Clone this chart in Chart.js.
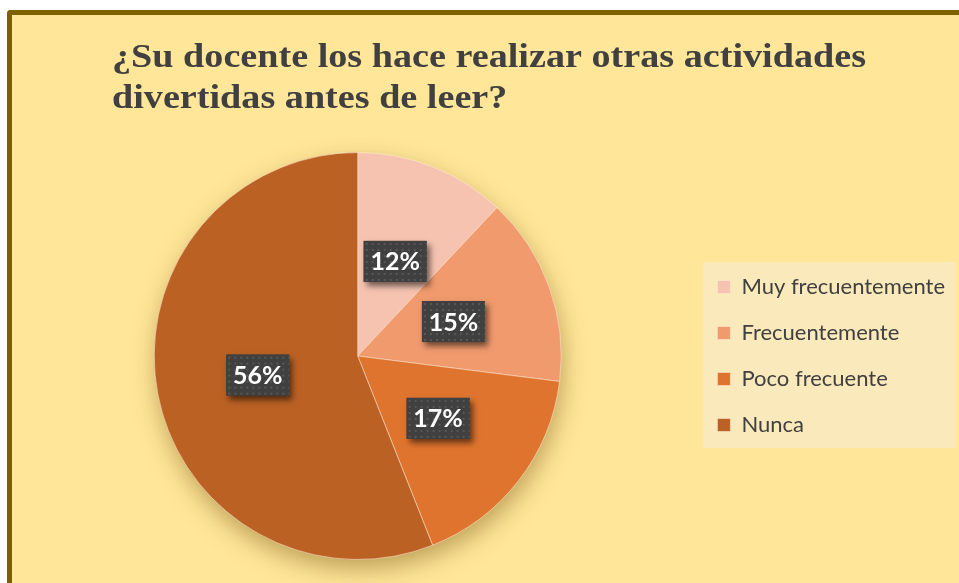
<!DOCTYPE html>
<html><head><meta charset="utf-8">
<script src="https://cdn.jsdelivr.net/npm/chart.js@4/dist/chart.umd.min.js"></script>
<style>
html,body{margin:0;padding:0;background:#fff;overflow:hidden;width:959px;height:583px}
#frame{position:absolute;left:7px;top:10px;width:980px;height:600px;background:#FFE699;border-left:5px solid #7F6000;border-top:5px solid #7F6000;border-top-left-radius:4px}
#c{position:absolute;left:0;top:0}
</style></head><body>
<div id="frame"></div>
<canvas id="c" width="959" height="583"></canvas>
<script>
const titleLines = ["¿Su docente los hace realizar otras actividades", "divertidas antes de leer?"];
const categories = ["Muy frecuentemente", "Frecuentemente", "Poco frecuente", "Nunca"];
const percentages = [12, 15, 17, 56];
const sliceColors = ["#F5C3B0", "#F09A6E", "#DF742E", "#BB6124"];

const textFont = "Lato, 'Open Sans', sans-serif";

const titlePlugin = {
  id: 'titleDraw',
  afterDraw(chart) {
    const ctx = chart.ctx;
    ctx.save();
    ctx.fillStyle = '#404040';
    ctx.font = "bold 34px 'Liberation Serif', 'Times New Roman', serif";
    ctx.textBaseline = 'alphabetic';
    const w = ctx.measureText(titleLines[0]).width;
    const sx = 754 / w;
    ctx.translate(112, 0);
    ctx.scale(sx, 1);
    ctx.fillText(titleLines[0], 0, 67);
    ctx.fillText(titleLines[1], 0, 108);
    ctx.restore();
  }
};

const shadowPlugin = {
  id: 'pieShadow',
  beforeDatasetsDraw(chart) {
    const arc = chart.getDatasetMeta(0).data[0];
    if (!arc) return;
    const ctx = chart.ctx;
    ctx.save();
    ctx.shadowColor = 'rgba(120,90,20,0.5)';
    ctx.shadowBlur = 24;
    ctx.shadowOffsetX = 2;
    ctx.shadowOffsetY = 10;
    ctx.fillStyle = '#BB6124';
    ctx.beginPath();
    ctx.arc(arc.x, arc.y, arc.outerRadius - 1, 0, Math.PI * 2);
    ctx.fill();
    ctx.restore();
  }
};

const legendBg = {
  id: 'legendBg',
  beforeDraw(chart) {
    const lg = chart.legend;
    if (!lg || !lg.legendHitBoxes || !lg.legendHitBoxes.length) return;
    const hb = lg.legendHitBoxes;
    const ctx = chart.ctx;
    ctx.save();
    ctx.fillStyle = '#FAE9BA';
    const top = hb[0].top - 14;
    const bottom = hb[hb.length - 1].top + hb[hb.length - 1].height + 12;
    ctx.fillRect(703, top, 955 - 703, bottom - top);
    ctx.restore();
  }
};

let dotPattern = null;
function getPattern(ctx) {
  if (dotPattern) return dotPattern;
  const p = document.createElement('canvas');
  p.width = 6; p.height = 6;
  const pc = p.getContext('2d');
  pc.fillStyle = '#404040';
  pc.fillRect(0, 0, 6, 6);
  pc.fillStyle = '#575757';
  pc.fillRect(2, 2, 2, 2);
  dotPattern = ctx.createPattern(p, 'repeat');
  return dotPattern;
}

const labelPlugin = {
  id: 'boxLabels',
  afterDatasetsDraw(chart) {
    const ctx = chart.ctx;
    const meta = chart.getDatasetMeta(0);
    const ds = chart.data.datasets[0].data;
    meta.data.forEach((arc, i) => {
      const pos = arc.tooltipPosition();
      const txt = ds[i] + '%';
      const bw = 63, bh = 41;
      const x = pos.x - bw / 2, y = pos.y - bh / 2;
      ctx.save();
      ctx.shadowColor = 'rgba(0,0,0,0.55)';
      ctx.shadowBlur = 6;
      ctx.shadowOffsetX = 3;
      ctx.shadowOffsetY = 4;
      ctx.fillStyle = '#404040';
      ctx.fillRect(x, y, bw, bh);
      ctx.restore();
      ctx.save();
      ctx.fillStyle = getPattern(ctx);
      ctx.translate(x, y);
      ctx.fillRect(0, 0, bw, bh);
      ctx.restore();
      ctx.save();
      ctx.fillStyle = '#FFFFFF';
      ctx.font = "bold 25px " + textFont;
      ctx.textAlign = 'center';
      ctx.textBaseline = 'middle';
      ctx.fillText(txt, pos.x, pos.y + 1);
      ctx.restore();
    });
  }
};

new Chart(document.getElementById('c'), {
  type: 'pie',
  data: {
    labels: categories,
    datasets: [{
      data: percentages,
      backgroundColor: sliceColors,
      borderColor: 'rgba(255,235,215,0.55)',
      borderWidth: 1
    }]
  },
  options: {
    responsive: false,
    animation: false,
    devicePixelRatio: 1,
    layout: { padding: { top: 152, bottom: 23, left: 22, right: 4 } },
    plugins: {
      title: { display: false },
      tooltip: { enabled: false },
      legend: {
        position: 'right',
        labels: {
          boxWidth: 13,
          boxHeight: 13,
          padding: 24,
          color: '#404040',
          font: { family: textFont, size: 22 }
        }
      }
    }
  },
  plugins: [legendBg, shadowPlugin, labelPlugin, titlePlugin]
});
</script>
</body></html>
